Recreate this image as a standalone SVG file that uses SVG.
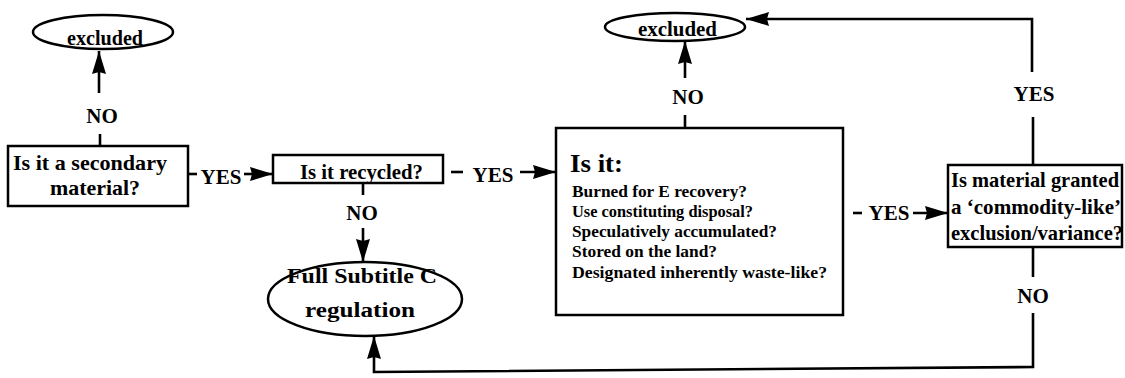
<svg xmlns="http://www.w3.org/2000/svg" width="1125" height="378" viewBox="0 0 1125 378">
  <style>
    .shape { fill: #fff; stroke: #000; stroke-width: 2.5; }
    .wire { fill: none; stroke: #000; stroke-width: 2.6; }
    text { font-family: "Liberation Serif", "Times New Roman", serif; font-weight: bold; fill: #000; }
    .lbl { font-size: 21px; text-anchor: middle; }
    .c { text-anchor: middle; }
    .t20 { font-size: 20px; }
    .t21 { font-size: 21px; }
    .t17 { font-size: 17.5px; }
  </style>
  <defs>
    <marker id="head" markerUnits="userSpaceOnUse" markerWidth="26" markerHeight="14" refX="23" refY="7" orient="auto">
      <path d="M0,0 L23,7 L0,14 L2,7 z" fill="#000"/>
    </marker>
  </defs>

  <rect width="1125" height="378" fill="#fff"/>

  <!-- connectors and their YES / NO labels -->
  <g id="connectors">
    <!-- secondary material? NO -> excluded -->
    <line class="wire" x1="100" y1="146" x2="100" y2="134"/>
    <text class="lbl" x="102" y="123">NO</text>
    <line class="wire" x1="99" y1="93" x2="99" y2="51" marker-end="url(#head)"/>

    <!-- secondary material? YES -> recycled? -->
    <line class="wire" x1="188" y1="174" x2="197" y2="174"/>
    <text class="lbl" x="221" y="184">YES</text>
    <line class="wire" x1="244" y1="174" x2="273" y2="174" marker-end="url(#head)"/>

    <!-- recycled? YES -> is it: -->
    <line class="wire" x1="451" y1="172" x2="463" y2="172"/>
    <text class="lbl" x="493" y="182">YES</text>
    <line class="wire" x1="520" y1="172" x2="556" y2="172" marker-end="url(#head)"/>

    <!-- recycled? NO -> Subtitle C -->
    <line class="wire" x1="363" y1="183" x2="363" y2="195"/>
    <text class="lbl" x="362" y="220">NO</text>
    <line class="wire" x1="363" y1="228" x2="363" y2="262" marker-end="url(#head)"/>

    <!-- is it: NO -> excluded -->
    <line class="wire" x1="685" y1="128" x2="685" y2="115"/>
    <text class="lbl" x="688" y="104">NO</text>
    <line class="wire" x1="685" y1="78" x2="685" y2="41" marker-end="url(#head)"/>

    <!-- is it: YES -> commodity-like? -->
    <line class="wire" x1="853" y1="213" x2="862" y2="213"/>
    <text class="lbl" x="889" y="220">YES</text>
    <line class="wire" x1="913" y1="213" x2="948" y2="213" marker-end="url(#head)"/>

    <!-- commodity-like? YES -> excluded -->
    <line class="wire" x1="1033" y1="165" x2="1033" y2="117"/>
    <text class="lbl" x="1034" y="101">YES</text>
    <polyline class="wire" points="1032,72 1032,19 746,19" marker-end="url(#head)"/>

    <!-- commodity-like? NO -> Subtitle C -->
    <line class="wire" x1="1033" y1="247" x2="1033" y2="277"/>
    <text class="lbl" x="1033" y="303">NO</text>
    <polyline class="wire" points="1033,313 1033,367 374,372 374,336" marker-end="url(#head)"/>
  </g>

  <g id="excluded-left">
    <ellipse class="shape" cx="103" cy="32" rx="70" ry="17"/>
    <text class="c t20" x="105" y="45" textLength="76" lengthAdjust="spacingAndGlyphs">excluded</text>
  </g>

  <g id="secondary-material">
    <rect class="shape" x="8" y="146" width="180" height="60"/>
    <text class="t21" x="13" y="170" textLength="154" lengthAdjust="spacingAndGlyphs">Is it a secondary</text>
    <text class="t21" x="50" y="195" textLength="90" lengthAdjust="spacingAndGlyphs">material?</text>
  </g>

  <g id="recycled">
    <rect class="shape" x="273" y="155" width="170" height="28"/>
    <text class="t20" x="300" y="179" textLength="123" lengthAdjust="spacingAndGlyphs">Is it recycled?</text>
  </g>

  <g id="subtitle-c">
    <ellipse class="shape" cx="365" cy="299" rx="97" ry="37"/>
    <text class="t20" x="287" y="283" textLength="150" lengthAdjust="spacingAndGlyphs">Full Subtitle C</text>
    <text class="t20" x="305" y="317" textLength="110" lengthAdjust="spacingAndGlyphs">regulation</text>
  </g>

  <g id="is-it">
    <rect class="shape" x="556" y="128" width="287" height="187"/>
    <text x="570" y="172" font-size="26" textLength="53" lengthAdjust="spacingAndGlyphs">Is it:</text>
    <text class="t17" x="572" y="197" textLength="175" lengthAdjust="spacingAndGlyphs">Burned for E recovery?</text>
    <text class="t17" x="572" y="217" textLength="181" lengthAdjust="spacingAndGlyphs">Use constituting disposal?</text>
    <text class="t17" x="572" y="237" textLength="205" lengthAdjust="spacingAndGlyphs">Speculatively accumulated?</text>
    <text class="t17" x="572" y="257" textLength="145" lengthAdjust="spacingAndGlyphs">Stored on the land?</text>
    <text class="t17" x="572" y="278" textLength="255" lengthAdjust="spacingAndGlyphs">Designated inherently waste-like?</text>
  </g>

  <g id="excluded-right">
    <ellipse class="shape" cx="675" cy="27" rx="70" ry="14"/>
    <text class="t20" x="638" y="36" font-size="18" textLength="79" lengthAdjust="spacingAndGlyphs">excluded</text>
  </g>

  <g id="commodity-like">
    <rect class="shape" x="948" y="165" width="174" height="82"/>
    <text class="t21" x="951" y="187" textLength="168" lengthAdjust="spacingAndGlyphs">Is material granted</text>
    <text class="t21" x="951" y="214" textLength="170" lengthAdjust="spacingAndGlyphs">a ‘commodity-like’</text>
    <text class="t21" x="951" y="240" textLength="172" lengthAdjust="spacingAndGlyphs">exclusion/variance?</text>
  </g>
</svg>
